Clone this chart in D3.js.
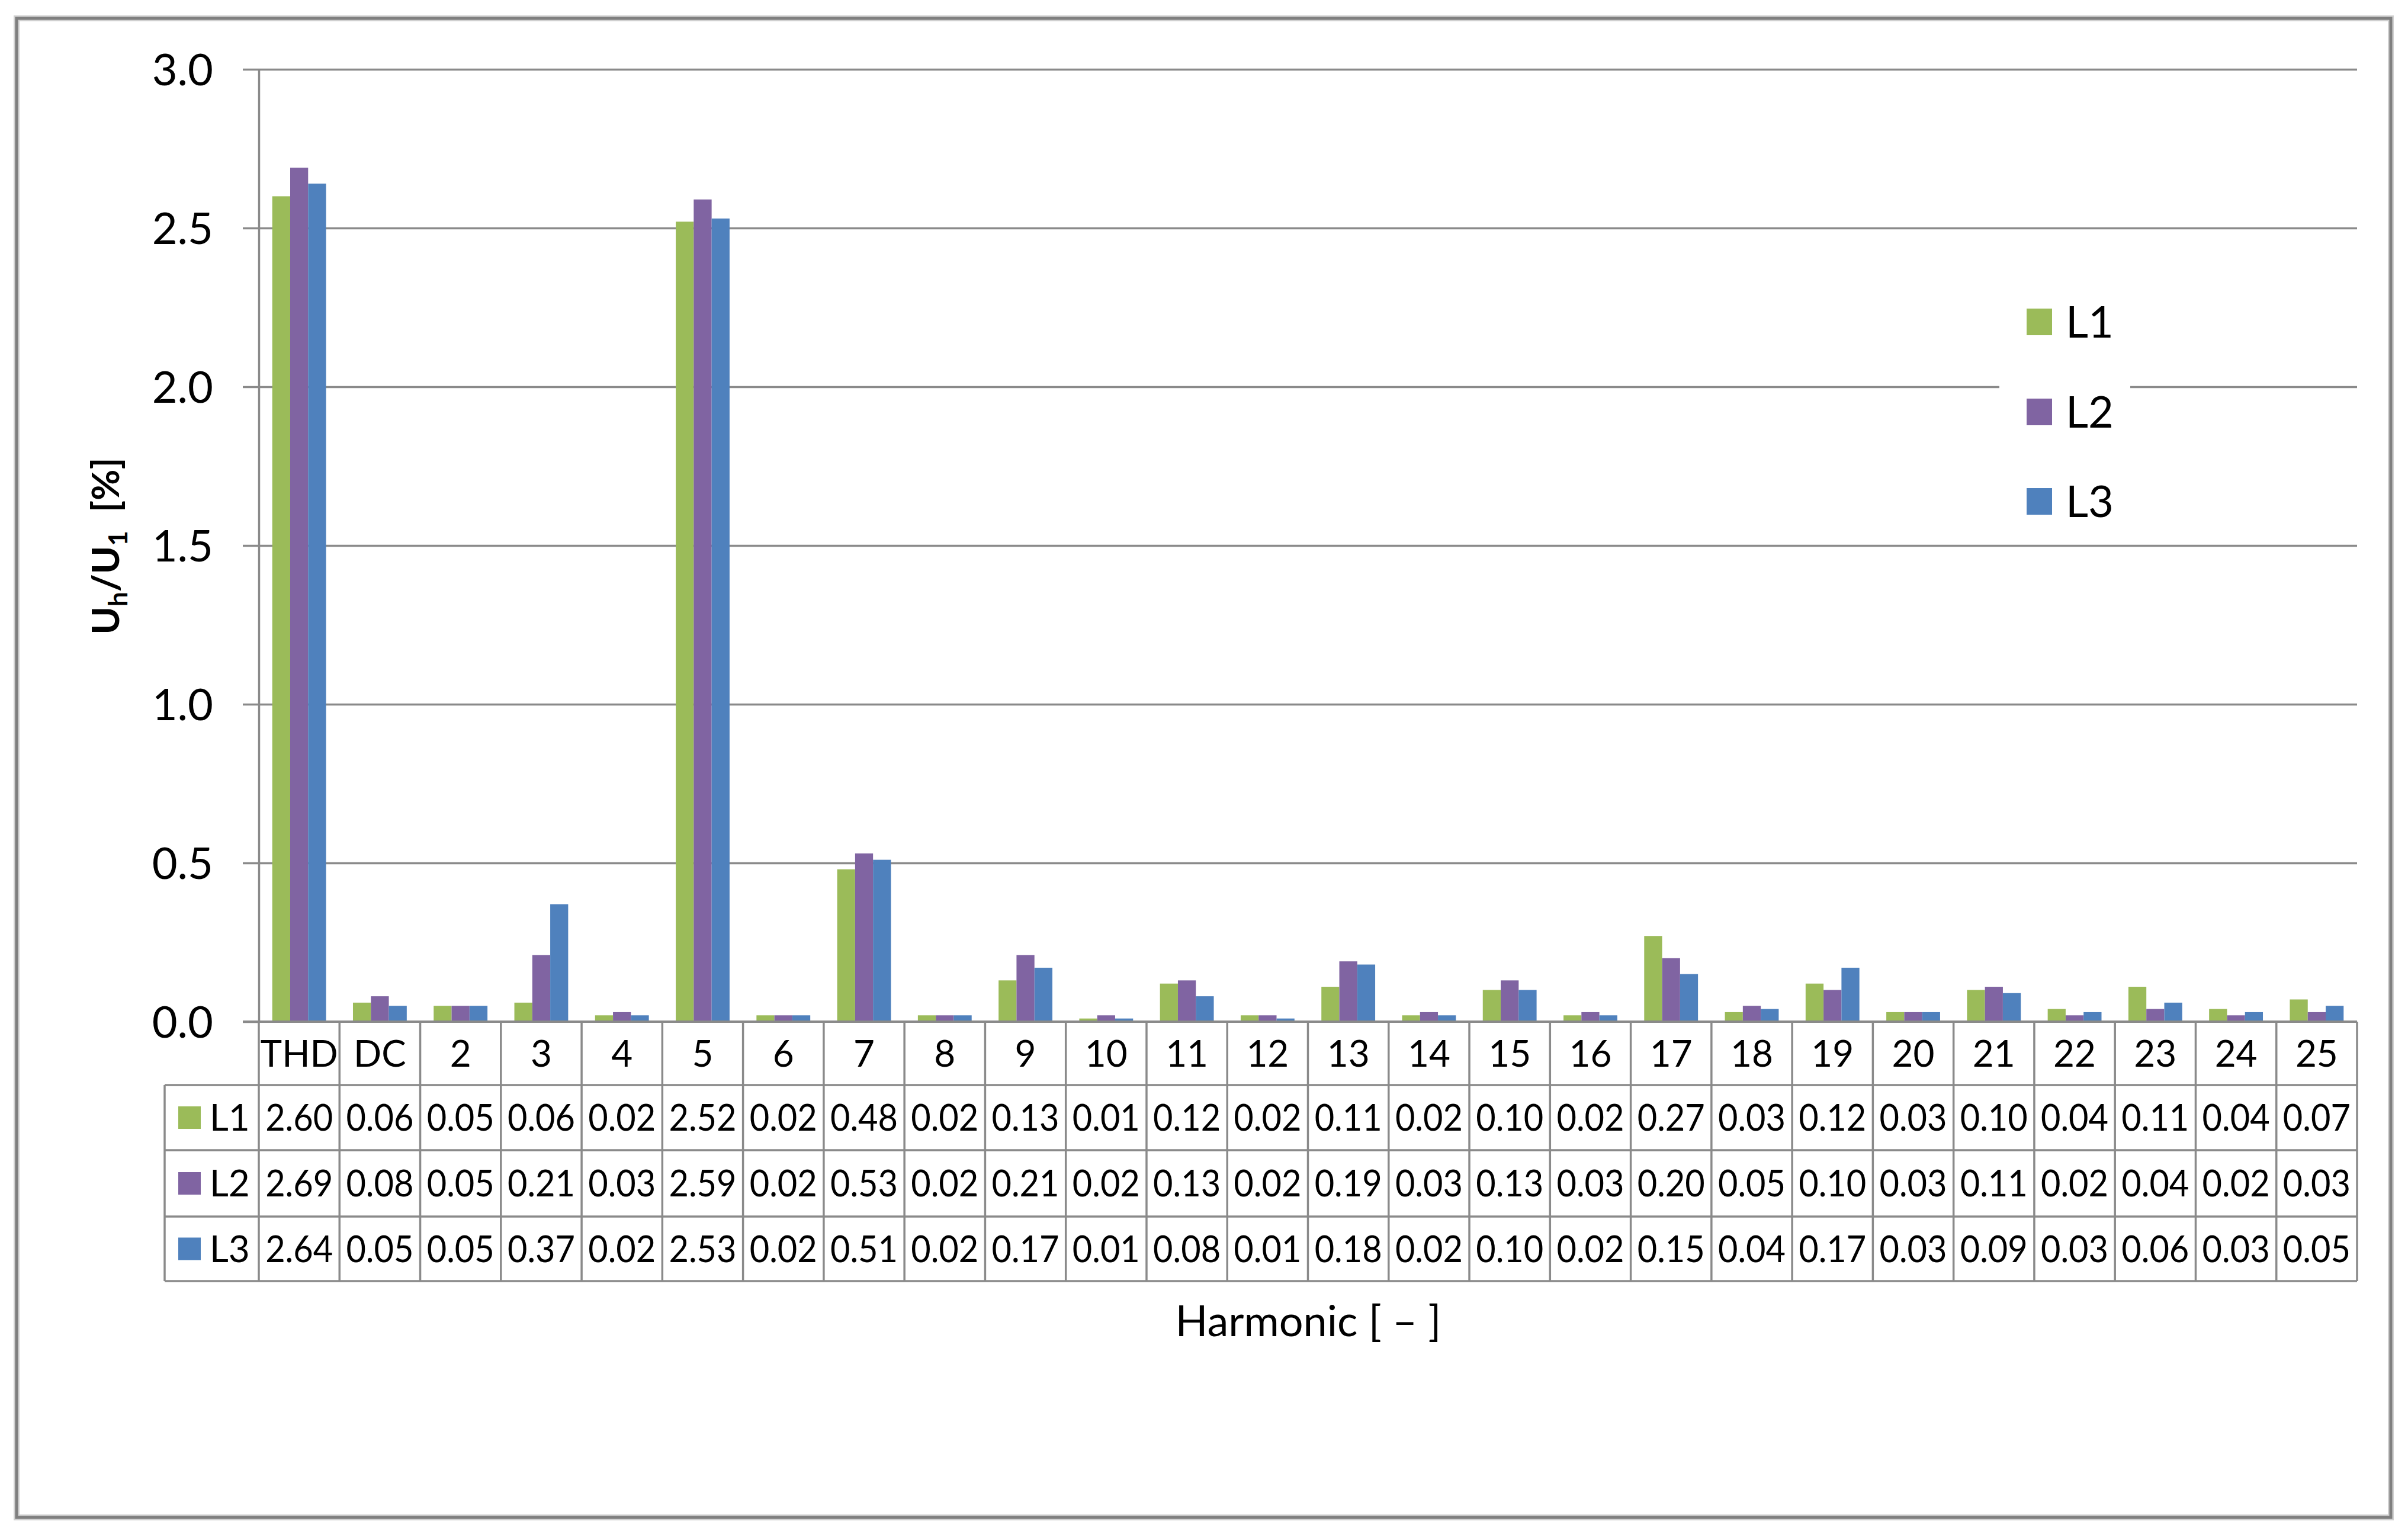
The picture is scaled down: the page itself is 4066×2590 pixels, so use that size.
<!DOCTYPE html>
<html>
<head>
<meta charset="utf-8">
<script src="https://cdn.jsdelivr.net/npm/d3@7"></script>
<style>
  html, body { margin: 0; padding: 0; background: #ffffff; }
  svg { display: block; }
  text { font-family: Lato, "Open Sans", sans-serif; fill: #000; }
</style>
</head>
<body>
<svg id="chart" width="4066" height="2590"></svg>
<script>
// ---------- data ----------
const categories = ["THD","DC","2","3","4","5","6","7","8","9","10","11","12","13","14","15","16","17","18","19","20","21","22","23","24","25"];
const seriesNames = ["L1","L2","L3"];
const L1 = [2.60,0.06,0.05,0.06,0.02,2.52,0.02,0.48,0.02,0.13,0.01,0.12,0.02,0.11,0.02,0.10,0.02,0.27,0.03,0.12,0.03,0.10,0.04,0.11,0.04,0.07];
const L2 = [2.69,0.08,0.05,0.21,0.03,2.59,0.02,0.53,0.02,0.21,0.02,0.13,0.02,0.19,0.03,0.13,0.03,0.20,0.05,0.10,0.03,0.11,0.02,0.04,0.02,0.03];
const L3 = [2.64,0.05,0.05,0.37,0.02,2.53,0.02,0.51,0.02,0.17,0.01,0.08,0.01,0.18,0.02,0.10,0.02,0.15,0.04,0.17,0.03,0.09,0.03,0.06,0.03,0.05];
const yTicks = [0, 0.5, 1.0, 1.5, 2.0, 2.5, 3.0];
const colors = ["#9BBB59", "#8064A2", "#4F81BD"];

const seriesValues = [L1, L2, L3];

// ---------- layout ----------
const svg = d3.select("#chart");
const W = 4066, H = 2590;
const plotLeft = 437, plotRight = 3980, plotTop = 117, plotBottom = 1725;
const rowEdges = [1725, 1832, 1942, 2054, 2163];
const tableLeft = 278;
const lineColor = "#8a8a8a";

svg.append("rect").attr("x", 0).attr("y", 0).attr("width", W).attr("height", H).attr("fill", "#fff");

// outer frame
svg.append("rect")
  .attr("x", 28).attr("y", 31).attr("width", 4040 - 28 - 3).attr("height", 2565 - 31 - 3)
  .attr("fill", "none").attr("stroke", "#d0d0d0").attr("stroke-width", 10);
svg.append("rect")
  .attr("x", 28).attr("y", 31).attr("width", 4040 - 28 - 3).attr("height", 2565 - 31 - 3)
  .attr("fill", "none").attr("stroke", "#7f7f7f").attr("stroke-width", 5);

const x0 = d3.scaleBand().domain(categories).range([plotLeft, plotRight]).padding(0);
const x1 = d3.scaleBand().domain(seriesNames).range([0, x0.bandwidth()]).paddingInner(0).paddingOuter(0.75);
const y = d3.scaleLinear().domain([0, 3]).range([plotBottom, plotTop]);

// gridlines
const grid = svg.append("g").attr("transform", `translate(${plotLeft},0)`)
  .call(d3.axisLeft(y).tickValues(yTicks.filter(v => v > 0)).tickSize(-(plotRight - plotLeft)).tickFormat(""));
grid.select(".domain").remove();
grid.selectAll("line").attr("stroke", lineColor).attr("stroke-width", 3.5);

// y axis
const yAxis = svg.append("g").attr("transform", `translate(${plotLeft},0)`)
  .call(d3.axisLeft(y).tickValues(yTicks).tickSize(27).tickSizeOuter(0).tickPadding(50).tickFormat(d3.format(".1f")));
yAxis.select(".domain").attr("stroke", lineColor).attr("stroke-width", 3.5);
yAxis.selectAll(".tick line").attr("stroke", lineColor).attr("stroke-width", 3.5);
yAxis.selectAll(".tick text").attr("font-size", 74).attr("font-family", "Lato, sans-serif").attr("fill", "#000").attr("dy", "0.36em");

// bars
const groups = svg.append("g").selectAll("g")
  .data(categories).join("g")
  .attr("transform", d => `translate(${x0(d)},0)`);
groups.selectAll("rect")
  .data((d, i) => seriesNames.map((s, k) => ({ s, k, v: seriesValues[k][i] })))
  .join("rect")
  .attr("x", d => x1(d.s))
  .attr("width", x1.bandwidth())
  .attr("y", d => y(d.v))
  .attr("height", d => y(0) - y(d.v))
  .attr("fill", d => colors[d.k]);

// zero axis line (horizontal) over bars
svg.append("line")
  .attr("x1", plotLeft - 27).attr("x2", plotRight)
  .attr("y1", y(0)).attr("y2", y(0))
  .attr("stroke", lineColor).attr("stroke-width", 4);

// ---------- data table ----------
const table = svg.append("g");
// vertical column boundaries
const colEdges = categories.map(c => x0(c)).concat([plotRight]);
table.selectAll("line.v").data(colEdges).join("line")
  .attr("class", "v")
  .attr("x1", d => d).attr("x2", d => d)
  .attr("y1", rowEdges[0]).attr("y2", rowEdges[rowEdges.length - 1])
  .attr("stroke", lineColor).attr("stroke-width", 3.5);
// left border of legend column
table.append("line")
  .attr("x1", tableLeft).attr("x2", tableLeft)
  .attr("y1", rowEdges[1]).attr("y2", rowEdges[rowEdges.length - 1])
  .attr("stroke", lineColor).attr("stroke-width", 3.5);
// horizontal row lines
table.selectAll("line.h").data(rowEdges.slice(1)).join("line")
  .attr("class", "h")
  .attr("x1", tableLeft).attr("x2", plotRight)
  .attr("y1", d => d).attr("y2", d => d)
  .attr("stroke", lineColor).attr("stroke-width", 3.5);

// category labels
table.selectAll("text.cat").data(categories).join("text")
  .attr("class", "cat")
  .attr("x", d => x0(d) + x0.bandwidth() / 2)
  .attr("y", (rowEdges[0] + rowEdges[1]) / 2)
  .attr("dy", "0.36em")
  .attr("text-anchor", "middle")
  .attr("font-size", 62)
  .text(d => d);

// value rows
seriesNames.forEach((s, k) => {
  const cy = (rowEdges[k + 1] + rowEdges[k + 2]) / 2;
  table.append("rect")
    .attr("x", 301).attr("y", cy - 19).attr("width", 38).attr("height", 38)
    .attr("fill", colors[k]);
  table.append("text")
    .attr("x", 354).attr("y", cy).attr("dy", "0.36em")
    .attr("font-size", 62).text(s);
  table.selectAll(`text.val${k}`).data(seriesValues[k]).join("text")
    .attr("class", `val${k}`)
    .attr("x", (d, i) => x0(categories[i]) + x0.bandwidth() / 2)
    .attr("y", cy).attr("dy", "0.36em")
    .attr("text-anchor", "middle")
    .attr("font-size", 62)
    .attr("textLength", 114).attr("lengthAdjust", "spacingAndGlyphs")
    .text(d => d3.format(".2f")(d));
});

// ---------- legend ----------
const legend = svg.append("g");
legend.append("rect").attr("x", 3376).attr("y", 470).attr("width", 221).attr("height", 430).attr("fill", "#fff");
const legY = [543, 695, 846];
seriesNames.forEach((s, k) => {
  legend.append("rect").attr("x", 3422).attr("y", legY[k] - 22).attr("width", 43).attr("height", 45).attr("fill", colors[k]);
  legend.append("text").attr("x", 3488).attr("y", legY[k]).attr("dy", "0.36em").attr("font-size", 74).text(s);
});

// ---------- axis titles ----------
const yt = svg.append("text")
  .attr("transform", "translate(201,922) rotate(-90)")
  .attr("text-anchor", "middle")
  .attr("font-size", 64)
  .attr("font-weight", "bold")
  .attr("xml:space", "preserve");
yt.append("tspan").text("U");
yt.append("tspan").attr("font-size", 44).attr("dy", 14).text("h");
yt.append("tspan").attr("dy", -14).text("/U");
yt.append("tspan").attr("font-size", 44).attr("dy", 14).text("1");
yt.append("tspan").attr("dy", -14).text("\u00a0\u00a0[%]");

svg.append("text")
  .attr("x", 2209).attr("y", 2256)
  .attr("text-anchor", "middle")
  .attr("font-size", 72)
  .text("Harmonic [ \u2013 ]");
</script>
</body>
</html>
